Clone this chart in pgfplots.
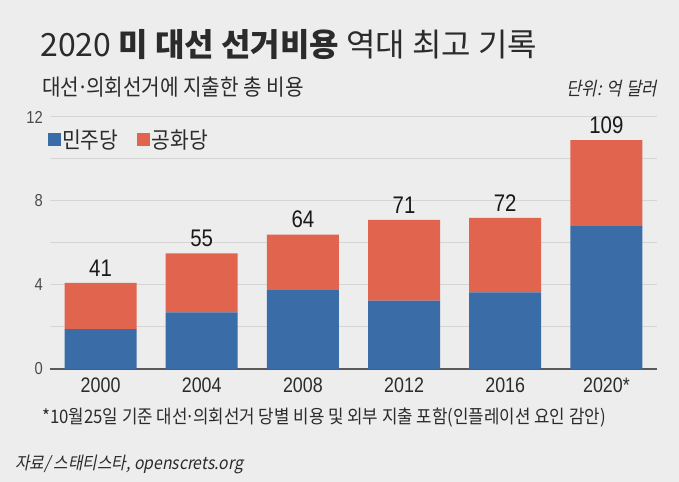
\documentclass[border=0pt]{standalone}
\usepackage{fontspec}
\setmainfont{Liberation Sans}
\newfontfamily\numf[FakeStretch=0.85]{Liberation Sans}
\newfontfamily\kr{Noto Sans CJK KR}
\newfontfamily\krn[FakeStretch=0.9]{Noto Sans CJK KR}
\newfontfamily\krs[FakeStretch=0.9,FakeSlant=0.2]{Noto Sans CJK KR}
\usepackage{pgfplots}
\usepackage{pgfplotstable}
\pgfplotsset{compat=1.18}

\definecolor{bgc}{HTML}{EDEDED}
\definecolor{dem}{HTML}{3A6CA8}
\definecolor{rep}{HTML}{E1644E}
\definecolor{gridc}{HTML}{D5D5D5}
\definecolor{axc}{HTML}{5A5A5A}
\definecolor{txt}{HTML}{2B2B2B}

\newcommand{\mdot}{\kern-0.1em·\kern-0.1em}

% 단위: 억 달러 -> axis in 10억 달러
\pgfplotstableread{
x dem rep lab
0 1.90 2.20 41
1 2.70 2.80 55
2 3.75 2.65 64
3 3.25 3.85 71
4 3.65 3.55 72
5 6.80 4.10 109
}\money

\begin{document}
\begin{tikzpicture}[x=0.75pt,y=0.75pt]
\path[use as bounding box, fill=bgc] (0,0) rectangle (679,482);

\begin{axis}[
    at={(37.5pt,84.75pt)}, anchor=south west,
    scale only axis, width=455.25pt, height=189pt,
    ybar stacked, bar width=54pt,
    xmin=-0.5, xmax=5.5, ymin=0, ymax=12,
    xtick={0,...,5},
    xticklabels={2000,2004,2008,2012,2016,2020*},
    ytick={0,2,...,12},
    yticklabels={0,,4,,8,,12},
    ymajorgrids, grid style={gridc, line width=0.75pt},
    major tick length=0pt,
    axis x line*=bottom, axis y line*=left,
    y axis line style={draw=none},
    x axis line style={draw=axc, line width=0.9pt},
    xticklabel style={font=\numf\fontsize{15.75}{16}\selectfont, text=txt, anchor=base, yshift=-18pt},
    yticklabel style={font=\numf\fontsize{13}{14}\selectfont, text=txt!85, anchor=east, inner sep=0pt, xshift=-5.25pt},
    legend style={at={(-0.004,0.91)}, anchor=west, draw=none, fill=none, inner sep=0pt,
        font=\krn\fontsize{17}{18}\selectfont, text=txt,
        /tikz/every even column/.append style={column sep=13pt},
        nodes={inner sep=1pt}},
    legend columns=2,
    legend image code/.code={\fill[#1] (0pt,-4.875pt) rectangle (9.75pt,4.875pt);},
]
\addplot[fill=dem, draw=none] table[x=x, y=dem] {\money};
% stacked labels sit in the middle of the segment: lift them by half of it
\addplot[fill=rep, draw=none,
    nodes near coords, point meta=explicit symbolic,
    visualization depends on={\thisrow{rep} \as \seg},
    every node near coord/.append style={font=\numf\fontsize{18}{18}\selectfont, text=black!90,
        anchor=base, inner sep=0pt, yshift={\seg*7.875pt+5pt}}]
    table[x=x, y=rep, meta=lab] {\money};
\legend{민주당, 공화당}
\end{axis}

\node[anchor=base west, inner sep=0pt, text=txt, font=\kr\fontsize{24}{25}\selectfont] at (40,425)
    {2020 \textbf{미 대선 선거비용} 역대 최고 기록};
\node[anchor=base west, inner sep=0pt, text=txt, font=\krn\fontsize{16.8}{17}\selectfont] at (42,386)
    {대선\mdot 의회선거에 지출한 총 비용};
\node[anchor=base east, inner sep=0pt, text=txt, font=\krs\fontsize{13.9}{14}\selectfont] at (657,386)
    {단위: 억 달러};
\node[anchor=base west, inner sep=0pt, text=txt, font=\krn\fontsize{14}{15}\selectfont] at (42,58)
    {*10월25일 기준 대선\mdot 의회선거 당별 비용 및 외부 지출 포함(인플레이션 요인 감안)};
\node[anchor=base west, inner sep=0pt, text=txt, font=\krs\fontsize{13.1}{14}\selectfont] at (15,12)
    {자료/ 스태티스타, openscrets.org};
\end{tikzpicture}
\end{document}
